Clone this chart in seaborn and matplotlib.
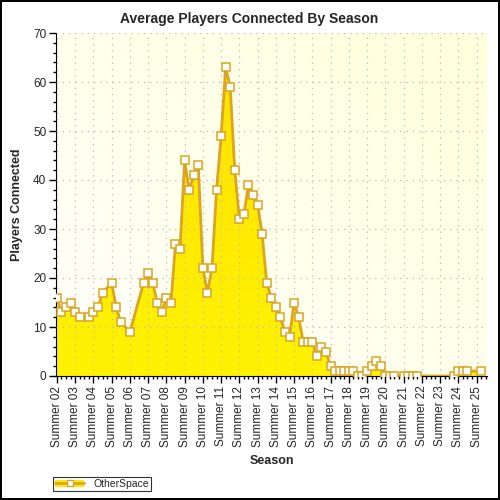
import numpy as np
import pandas as pd
import matplotlib
matplotlib.use("Agg")
import matplotlib.pyplot as plt
from matplotlib.patches import Patch
from matplotlib.lines import Line2D
from matplotlib.ticker import MultipleLocator
import seaborn as sns

# one value per season (4 per year, starting Summer 02); None = no data
players = [
    16, 13, 14, 15,
    13, 12, None, 12,
    13, 14, 17, None,
    19, 14, 11, None,
    9, None, None, 19,
    21, 19, 15, 13,
    16, 15, 27, 26,
    44, 38, 41, 43,
    22, 17, 22, 38,
    49, 63, 59, 42,
    32, 33, 39, 37,
    35, 29, 19, 16,
    14, 12, 9, 8,
    15, 12, 7, 7,
    7, 4, 6, 5,
    2, 1, 1, 1,
    1, 1, 0, 0,
    1, 2, 3, 2,
    0, 0, 0, None,
    0, 0, 0, 0,
    None, None, None, None,
    None, None, None, 0,
    1, 1, 1, None,
    None, 1,
]
tick_labels = ["Summer %02d" % y for y in range(2, 26)]
series_name = "OtherSpace"

line_col = "#DAA520"
fill_top = np.array([255, 224, 0]) / 255
fill_bot = np.array([255, 243, 0]) / 255

df = pd.DataFrame({"season": np.arange(len(players)), "players": players}).dropna()

sns.set_style("ticks")
plt.rcParams["font.family"] = ["Liberation Sans", "DejaVu Sans"]

fig = plt.figure(figsize=(5, 5), dpi=100, edgecolor="black", linewidth=1.5)
ax = fig.add_axes([0.112, 0.248, 0.862, 0.686])

# background gradient of the plot area
gx, gy = np.meshgrid(np.linspace(0, 1, 64), np.linspace(0, 1, 64))
t = ((gx + gy) / 2)[..., None]
bg = (1 - t) * np.array([1, 1, 0.985]) + t * np.array([1, 1, 0.86])
ax.imshow(bg, extent=[0, 1, 0, 1], transform=ax.transAxes, origin="lower",
          aspect="auto", zorder=0)

# yellow area with vertical gradient
poly = ax.fill_between(df["season"], df["players"], 0, color=fill_bot, lw=0, zorder=1)
tg = np.linspace(0, 1, 128)[:, None, None]
fg = (1 - tg) * fill_bot + tg * fill_top
im = ax.imshow(fg, extent=[-0.5, 95, 0, 65], origin="lower", aspect="auto", zorder=1.5)
im.set_clip_path(poly.get_paths()[0], transform=ax.transData)

sns.lineplot(data=df, x="season", y="players", ax=ax, color=line_col, lw=2.0,
             marker="s", markersize=6, markerfacecolor="white",
             markeredgecolor=line_col, markeredgewidth=1.1, zorder=3)

ax.set_xlim(-0.2, 94.3)
ax.set_ylim(0, 70)
ax.set_xticks(np.arange(0, 93, 4))
ax.set_xticklabels(tick_labels, rotation=90, fontsize=8.5)
ax.xaxis.set_minor_locator(MultipleLocator(1))
ax.yaxis.set_major_locator(MultipleLocator(10))
ax.yaxis.set_minor_locator(MultipleLocator(2))
ax.tick_params(axis="both", which="major", length=5, width=1, color="black",
               labelsize=8.5, pad=2)
ax.tick_params(axis="both", which="minor", length=2.5, width=1, color="black")
ax.grid(True, which="major", color="#BBBBBB", linestyle=(0, (1, 4)), lw=0.9)
ax.set_axisbelow(False)
for g in ax.get_xgridlines() + ax.get_ygridlines():
    g.set_zorder(0.5)
sns.despine(ax=ax)
ax.spines["left"].set_color("black")
ax.spines["bottom"].set_color("black")

ax.set_title("Average Players Connected By Season", fontsize=10, fontweight="bold",
             pad=7, x=0.448)
ax.set_xlabel("Season", fontsize=9, fontweight="bold", labelpad=6)
ax.set_ylabel("Players Connected", fontsize=9, fontweight="bold", labelpad=7)

handle = (Patch(facecolor="#FFE800", edgecolor="none"),
          Line2D([], [], color=line_col, lw=2, marker="s", markersize=5,
                 markerfacecolor="white", markeredgecolor=line_col))
leg = fig.legend([handle], [series_name], loc="lower left",
                 bbox_to_anchor=(0.106, 0.018), fontsize=7.5, frameon=True,
                 fancybox=False, handlelength=2.8, borderpad=0.2,
                 handletextpad=0.9, borderaxespad=0)
leg.get_frame().set_edgecolor("black")
leg.get_frame().set_linewidth(0.8)

fig.savefig("out.png", dpi=100)
